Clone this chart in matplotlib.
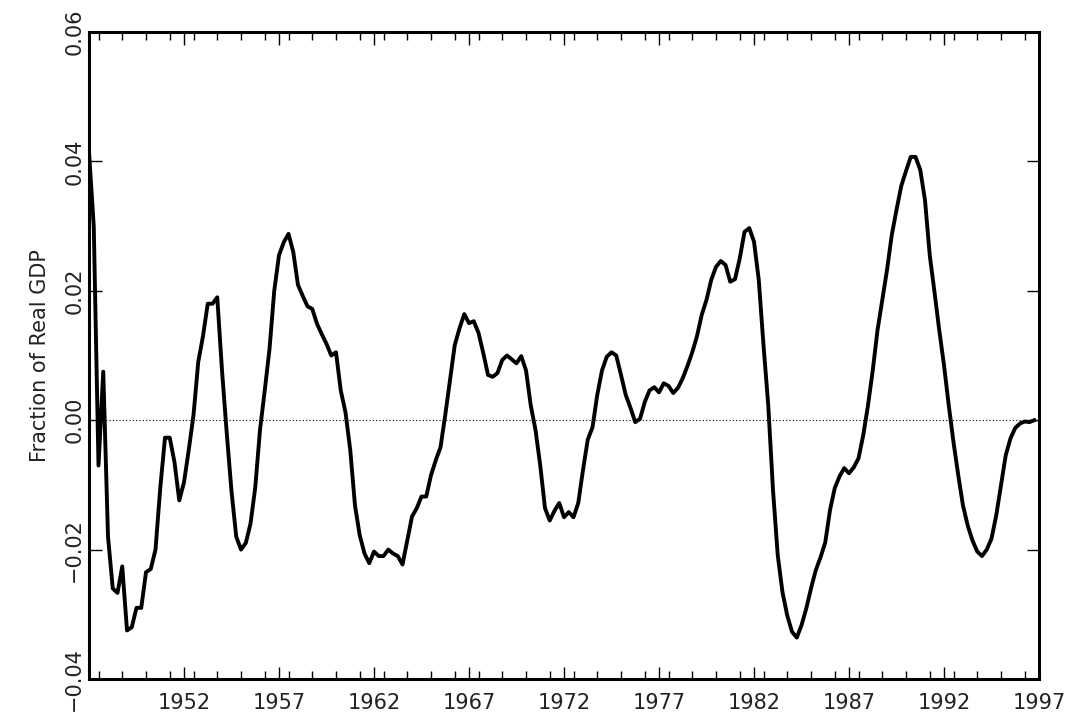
import matplotlib
matplotlib.use("Agg")
import matplotlib.pyplot as plt
import numpy as np
from matplotlib.ticker import MultipleLocator

start_year = 1947.0
values = [0.0415,0.030,-0.007,0.0075,-0.018,-0.026,-0.0267,-0.0226,-0.0325,-0.032,-0.029,-0.029,
-0.0235,-0.023,-0.020,-0.0105,-0.0027,-0.0027,-0.0065,-0.0124,-0.0096,-0.0046,0.0008,0.009,
0.013,0.018,0.018,0.019,0.0077,-0.002,-0.011,-0.018,-0.020,-0.019,-0.016,-0.0104,
-0.0015,0.0046,0.011,0.020,0.0255,0.0275,0.0288,0.026,0.0209,0.0192,0.0176,0.0172,
0.0149,0.0133,0.0118,0.010,0.0105,0.0046,0.0012,-0.0046,-0.0132,-0.0178,-0.0206,-0.0221,
-0.0203,-0.021,-0.021,-0.020,-0.0206,-0.021,-0.0223,-0.0186,-0.0149,-0.0136,-0.0118,-0.0118,
-0.0085,-0.0062,-0.0042,0.0008,0.0062,0.0116,0.0142,0.0164,0.015,0.0153,0.0135,0.0104,
0.007,0.0067,0.0073,0.0093,0.0100,0.0094,0.0088,0.0099,0.0077,0.0023,-0.0015,-0.007,
-0.0136,-0.0155,-0.014,-0.0128,-0.015,-0.0142,-0.015,-0.0128,-0.0077,-0.003,-0.0011,0.0039,
0.0077,0.0098,0.0105,0.010,0.007,0.0039,0.0019,-0.0003,0.0002,0.0028,0.0046,0.0051,
0.0043,0.0057,0.0053,0.0042,0.005,0.0065,0.0084,0.0105,0.013,0.0163,0.0186,0.0217,
0.0237,0.0246,0.024,0.0214,0.0218,0.025,0.0291,0.0297,0.0276,0.0217,0.0116,0.0023,
-0.0108,-0.0209,-0.0266,-0.0302,-0.0327,-0.0336,-0.0317,-0.0291,-0.026,-0.0232,-0.0212,-0.0189,
-0.0139,-0.0105,-0.0087,-0.0074,-0.0082,-0.0073,-0.0059,-0.0023,0.0023,0.0077,0.0139,0.0186,
0.0232,0.0286,0.0325,0.0362,0.0385,0.0407,0.0407,0.0387,0.034,0.0255,0.0198,0.0139,
0.0085,0.0023,-0.0034,-0.0085,-0.0132,-0.0163,-0.0186,-0.0203,-0.021,-0.020,-0.0183,-0.0147,
-0.0101,-0.0054,-0.0028,-0.0012,-0.0005,-0.0002,-0.0003,0.0]
years = start_year + 0.25*np.arange(len(values))
xticks = [1952,1957,1962,1967,1972,1977,1982,1987,1992,1997]
yticks = [-0.04,-0.02,0.00,0.02,0.04,0.06]

plt.rcParams['font.family'] = ['DejaVu Sans']
fig = plt.figure(figsize=(10.71,7.13), dpi=100)
ax = fig.add_axes([89/1071, 1-679/713, 950/1071, 647/713])
ax.plot(years, values, color='black', lw=2.8)
ax.axhline(0, color='black', lw=0.8, ls=(0,(1,2)))
ax.set_xlim(1947,1997)
ax.set_ylim(-0.04,0.06)
ax.set_xticks(xticks)
ax.set_xticklabels([str(t) for t in xticks])
ax.xaxis.set_minor_locator(MultipleLocator(1.25))
ax.set_yticks(yticks)
ax.set_yticklabels([('%.2f' % t).replace('-', '\u2212') for t in yticks], rotation=90, va='center')
ax.tick_params(direction='in', which='major', length=9, width=1, labelsize=15, top=True, right=True)
ax.tick_params(direction='in', which='minor', length=6, width=1, top=True, right=True)
ax.tick_params(axis='x', pad=10)
for lab in ax.get_xticklabels() + ax.get_yticklabels():
    lab.set_color('#222222')
for s in ax.spines.values(): s.set_linewidth(2.2)
ax.set_ylabel('Fraction of Real GDP', fontsize=15, color='#222222', labelpad=10)
fig.savefig('out.png', dpi=100)
